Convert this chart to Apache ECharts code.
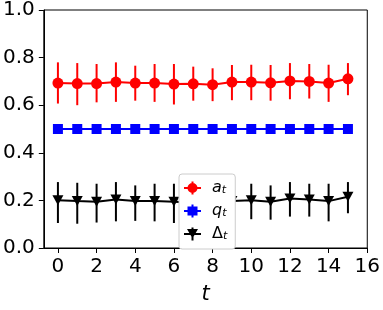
<!DOCTYPE html>
<html><head><meta charset="utf-8">
<script src="https://cdn.jsdelivr.net/npm/echarts@6/dist/echarts.min.js"></script>
<style>html,body{margin:0;padding:0;background:#fff}#c{width:383px;height:310px}</style>
</head><body><div id="c"></div>
<script>
const tValues = [0,1,2,3,4,5,6,7,8,9,10,11,12,13,14,15];
const aMean = [0.693,0.691,0.691,0.697,0.693,0.693,0.689,0.690,0.686,0.697,0.697,0.694,0.702,0.700,0.693,0.711];
const aLow  = [0.607,0.600,0.612,0.614,0.619,0.614,0.603,0.619,0.617,0.621,0.621,0.619,0.625,0.628,0.614,0.642];
const aHigh = [0.780,0.777,0.773,0.780,0.766,0.773,0.773,0.762,0.755,0.769,0.770,0.769,0.777,0.773,0.770,0.777];
const qMean = [0.5,0.5,0.5,0.5,0.5,0.5,0.5,0.5,0.5,0.5,0.5,0.5,0.5,0.5,0.5,0.5];
const dMean = [0.201,0.197,0.194,0.204,0.197,0.197,0.194,0.190,0.186,0.197,0.201,0.194,0.208,0.204,0.197,0.215];
const dLow  = [0.105,0.102,0.107,0.112,0.114,0.112,0.105,0.110,0.108,0.115,0.121,0.119,0.132,0.132,0.112,0.146];
const dHigh = [0.277,0.274,0.270,0.277,0.263,0.270,0.270,0.265,0.262,0.268,0.270,0.263,0.277,0.270,0.270,0.277];
const xTicks = [0,2,4,6,8,10,12,14,16];
const yTicks = [0,0.2,0.4,0.6,0.8,1.0];

const FONT = 'DejaVu Sans';
function pairs(y){ return tValues.map((t,i)=>[t,y[i]]); }
function errData(lo,hi){ return tValues.map((t,i)=>[t,lo[i],hi[i]]); }
function errSeries(name,lo,hi,color){
  return {
    type:'custom', name:name, z:2, silent:true,
    data: errData(lo,hi),
    renderItem:function(params,api){
      const p1 = api.coord([api.value(0),api.value(1)]);
      const p2 = api.coord([api.value(0),api.value(2)]);
      return {type:'line', shape:{x1:p1[0],y1:p1[1],x2:p2[0],y2:p2[1]}, style:{stroke:color,lineWidth:2}};
    }
  };
}
const bars = 'M0 5.5 L17 5.5 L17 7.5 L0 7.5 Z M7.5 0 L9.5 0 L9.5 13 L7.5 13 Z ';
const iconA = 'path://' + bars + 'M3.5 6.5 A5 5 0 1 1 13.5 6.5 A5 5 0 1 1 3.5 6.5 Z';
const iconQ = 'path://' + bars + 'M3.5 2 L13.5 2 L13.5 11 L3.5 11 Z';
const iconD = 'path://' + bars + 'M3 1.5 L14 1.5 L8.5 11 Z';

const chart = echarts.init(document.getElementById('c'), null, {renderer:'canvas'});
chart.setOption({
  animation:false,
  backgroundColor:'#fff',
  grid:{left:43,right:13,top:10,bottom:58,show:true,borderColor:'#000',borderWidth:1,backgroundColor:'transparent'},
  xAxis:{
    type:'value', min:-0.73, max:16,
    name:'t', nameLocation:'middle', nameGap:36,
    nameTextStyle:{fontFamily:FONT,fontSize:21,fontStyle:'italic',color:'#000'},
    axisLine:{show:true,onZero:false,lineStyle:{color:'#000',width:1}},
    axisTick:{show:true,length:5,inside:false,lineStyle:{color:'#000'},customValues:xTicks},
    axisLabel:{color:'#000',fontFamily:FONT,fontSize:20,margin:9,customValues:xTicks,formatter:v=>String(v)},
    splitLine:{show:false}
  },
  yAxis:{
    type:'value', min:0, max:1, interval:0.2,
    axisLine:{show:true,onZero:false,lineStyle:{color:'#000',width:1}},
    axisTick:{show:true,length:5,inside:false,lineStyle:{color:'#000'}},
    axisLabel:{color:'#000',fontFamily:FONT,fontSize:20,margin:9,formatter:v=>v.toFixed(1)},
    splitLine:{show:false}
  },
  legend:{
    orient:'vertical', left:179, top:174, z:10,
    backgroundColor:'#ffffff', borderColor:'#cccccc', borderWidth:1, borderRadius:3,
    padding:[6,8,7,5], itemGap:7, itemWidth:17, itemHeight:13,
    data:[{name:'a',icon:iconA},{name:'q',icon:iconQ},{name:'Δ',icon:iconD}],
    formatter:n=>(n==='Δ'?'{u|Δ}':'{m|'+n+'}')+'{s|t}',
    textStyle:{color:'#000',fontFamily:FONT,
      rich:{m:{fontSize:16,fontStyle:'italic',fontFamily:FONT,color:'#000',lineHeight:15,padding:[0,0,0,6]},
            u:{fontSize:16,fontStyle:'normal',fontFamily:FONT,color:'#000',lineHeight:15,padding:[0,0,0,6]},
            s:{fontSize:11,fontStyle:'italic',fontFamily:FONT,color:'#000',lineHeight:8,verticalAlign:'bottom'}}}
  },
  series:[
    errSeries('aErr',aLow,aHigh,'#ff0000'),
    errSeries('dErr',dLow,dHigh,'#000000'),
    {type:'line',name:'a',data:pairs(aMean),z:3,symbol:'circle',symbolSize:11,color:'#ff0000',
      lineStyle:{color:'#ff0000',width:2},itemStyle:{color:'#ff0000'}},
    {type:'line',name:'q',data:pairs(qMean),z:3,symbol:'rect',symbolSize:10,color:'#0000ff',
      lineStyle:{color:'#0000ff',width:2},itemStyle:{color:'#0000ff'}},
    {type:'line',name:'Δ',data:pairs(dMean),z:3,symbol:'triangle',symbolRotate:180,symbolSize:[11,10],color:'#000000',
      lineStyle:{color:'#000',width:2},itemStyle:{color:'#000'}}
  ]
});
</script></body></html>
